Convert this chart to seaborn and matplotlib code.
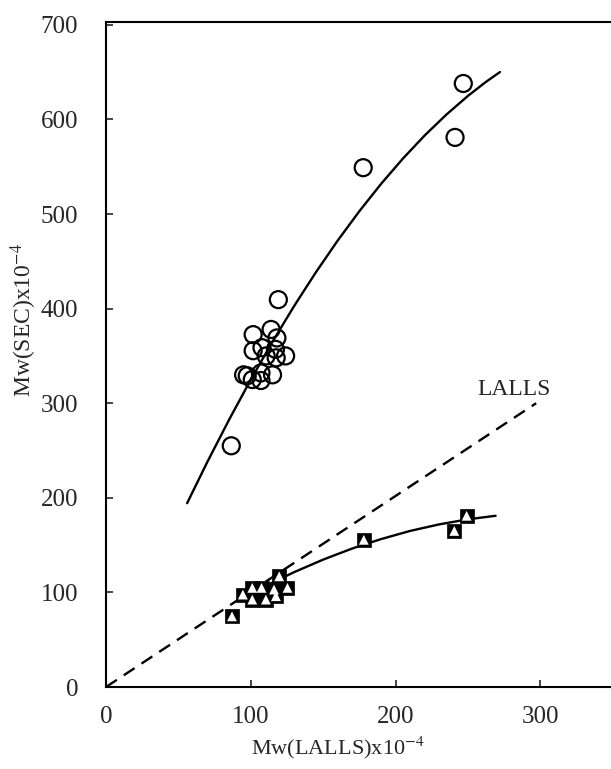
import matplotlib
matplotlib.use("Agg")
import matplotlib.pyplot as plt
import seaborn as sns
import pandas as pd

# SEC (open circles)
sec_x = [86.5, 95, 97.5, 101, 107, 107, 115, 101.6, 107.7, 110.6, 117, 117.5, 124,
         101.6, 114, 118, 119, 177.6, 241, 246.7]
sec_y = [255, 330, 329, 325, 324, 332, 330, 355.5, 358.7, 350, 357, 348, 350,
         372.5, 378, 369, 409.5, 549, 581, 638]

# square/triangle symbols
sq_x = [87, 94.5, 101, 107.4, 119.6, 125.3, 116, 110.4, 101, 117.3, 178, 240.5, 249]
sq_y = [74.7, 97.7, 104.8, 104.8, 117, 104.8, 103, 92.4, 92.4, 96, 155.6, 165, 181]

# upper fitted curve
up_x = [56, 70, 85, 100, 115, 130, 145, 160, 175, 190, 205, 220, 235, 250, 262, 272]
up_y = [194.3, 238, 282.6, 325, 365.1, 403, 438.6, 472, 503.1, 532, 558.6, 583,
        605.1, 625, 639.3, 650.1]

# lower fitted curve
lo_x = [92, 110, 130, 150, 170, 190, 210, 230, 250, 269]
lo_y = [92, 106.7, 121.5, 134.7, 146.4, 156.4, 165, 171.9, 177.3, 181]

# LALLS reference line
lalls_x = [0, 297]
lalls_y = [0, 300]

x_ticks = [0, 100, 200, 300]
y_ticks = [0, 100, 200, 300, 400, 500, 600, 700]

sns.set_style("ticks")
plt.rcParams['font.family'] = ['Liberation Serif', 'DejaVu Serif']
plt.rcParams['mathtext.fontset'] = 'stix'

W, H = 611, 769
fig = plt.figure(figsize=(W / 100, H / 100), dpi=100)
left, right, top, bottom = 106, 610, 22, 687
ax = fig.add_axes([left / W, 1 - bottom / H, (right - left) / W, (bottom - top) / H])

df_sec = pd.DataFrame({"x": sec_x, "y": sec_y})
df_sq = pd.DataFrame({"x": sq_x, "y": sq_y})
df_up = pd.DataFrame({"x": up_x, "y": up_y})
df_lo = pd.DataFrame({"x": lo_x, "y": lo_y})
df_la = pd.DataFrame({"x": lalls_x, "y": lalls_y})

sns.lineplot(data=df_la, x="x", y="y", ax=ax, color="black", lw=1.7,
             linestyle=(0, (5.5, 3.5)), sort=False, estimator=None)
sns.lineplot(data=df_up, x="x", y="y", ax=ax, color="black", lw=1.7,
             sort=False, estimator=None)
sns.lineplot(data=df_lo, x="x", y="y", ax=ax, color="black", lw=1.7,
             sort=False, estimator=None)

sns.scatterplot(data=df_sec, x="x", y="y", ax=ax, marker="o", s=150,
                facecolor="none", edgecolor="black", linewidth=1.6, zorder=4)
sns.scatterplot(data=df_sq, x="x", y="y", ax=ax, marker="s", s=115,
                color="black", edgecolor="black", linewidth=0.5, zorder=5)
sns.scatterplot(data=df_sq, x="x", y="y", ax=ax, marker="^", s=50,
                color="white", edgecolor="none", linewidth=0, zorder=6)

ax.text(282, 314, "LALLS", fontsize=17, ha="center", va="center")

ax.set_xlim(0, 348)
ax.set_ylim(0, 703)
ax.set_xticks(x_ticks)
ax.set_yticks(y_ticks)
ax.tick_params(direction="in", length=5, width=1.2, labelsize=18, pad=14)
ax.tick_params(axis="y", pad=20)
for s in ["left", "bottom", "top"]:
    ax.spines[s].set_linewidth(1.5)
    ax.spines[s].set_color("black")
ax.spines["right"].set_visible(False)

ax.set_xlabel(r"Mw(LALLS)x10$^{-4}$", fontsize=16)
ax.set_ylabel(r"Mw(SEC)x10$^{-4}$", fontsize=17)
ax.xaxis.label.set_va("center")
ax.yaxis.label.set_va("center")
ax.xaxis.set_label_coords((338 - left) / (right - left), -(748 - bottom) / (bottom - top))
ax.yaxis.set_label_coords((24 - left) / (right - left), (bottom - 320) / (bottom - top))

fig.savefig("out.png", dpi=100)
